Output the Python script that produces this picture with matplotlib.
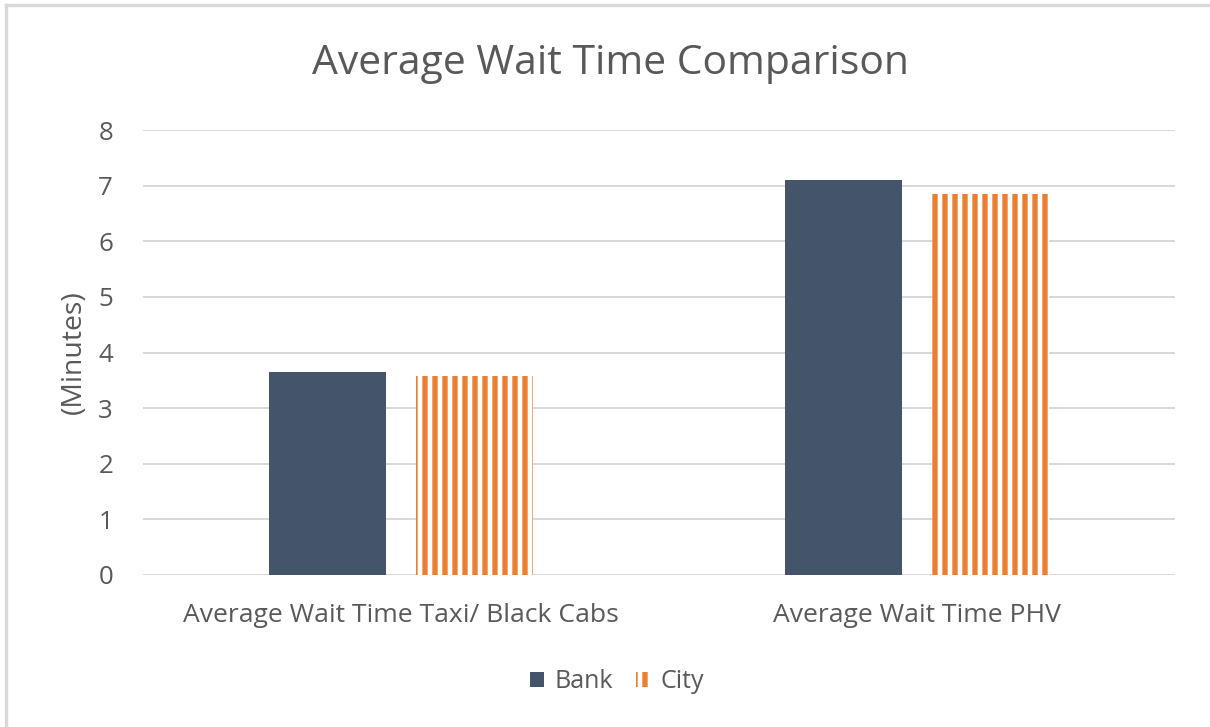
import matplotlib.pyplot as plt
import numpy as np
from matplotlib.lines import Line2D

categories = ["Average Wait Time Taxi/ Black Cabs", "Average Wait Time PHV"]
bank = [3.65, 7.10]
city = [3.58, 6.85]
y_ticks = [0, 1, 2, 3, 4, 5, 6, 7, 8]

text_col = "#595959"
grid_col = "#d9d9d9"
bank_col = "#44546a"
city_col = "#ed7d31"

plt.rcParams["font.family"] = ["Open Sans", "DejaVu Sans"]
plt.rcParams["hatch.linewidth"] = 3.2

dpi = 120
fig = plt.figure(figsize=(1210 / dpi, 727 / dpi), dpi=dpi)
ax = fig.add_axes([143 / 1210, 1 - 575 / 727, (1175 - 143) / 1210, (575 - 130) / 727])

x = np.arange(len(categories))
w = 0.227
off = 0.143
ax.bar(x - off, bank, w, color=bank_col, label="Bank", zorder=3)
ax.bar(x + off, city, w, facecolor="white", edgecolor=city_col, hatch="||",
       linewidth=0, label="City", zorder=3)

ax.set_xlim(-0.5, len(categories) - 0.5)
ax.set_ylim(0, 8)
ax.set_yticks(y_ticks)
ax.set_xticks(x)
ax.set_xticklabels(categories)
ax.tick_params(length=0, labelsize=15.5, colors=text_col)
ax.tick_params(axis="x", labelsize=15.9, pad=17)
ax.tick_params(axis="y", pad=18)
ax.grid(axis="y", color=grid_col, linewidth=1.2, zorder=0)
for s in ax.spines.values():
    s.set_visible(False)

ax.set_ylabel("(Minutes)", fontsize=17, color=text_col, labelpad=6)
fig.text(611 / 1210, 1 - 64 / 727, "Average Wait Time Comparison", ha="center", va="center",
         fontsize=24.5, color=text_col)

fig.legend(loc="center", bbox_to_anchor=(617 / 1210, 1 - 682 / 727), ncol=2, frameon=False,
           fontsize=15, labelcolor=text_col, handlelength=0.55, handleheight=0.55,
           handletextpad=0.45, columnspacing=0.9)

# outer chart frame (top and left edges visible)
fig.add_artist(Line2D([6 / 1210, 6 / 1210], [0, 1 - 5 / 727], transform=fig.transFigure,
                      color=grid_col, linewidth=2))
fig.add_artist(Line2D([6 / 1210, 1], [1 - 5 / 727, 1 - 5 / 727], transform=fig.transFigure,
                      color=grid_col, linewidth=2))

fig.savefig("out.png", dpi=dpi)
